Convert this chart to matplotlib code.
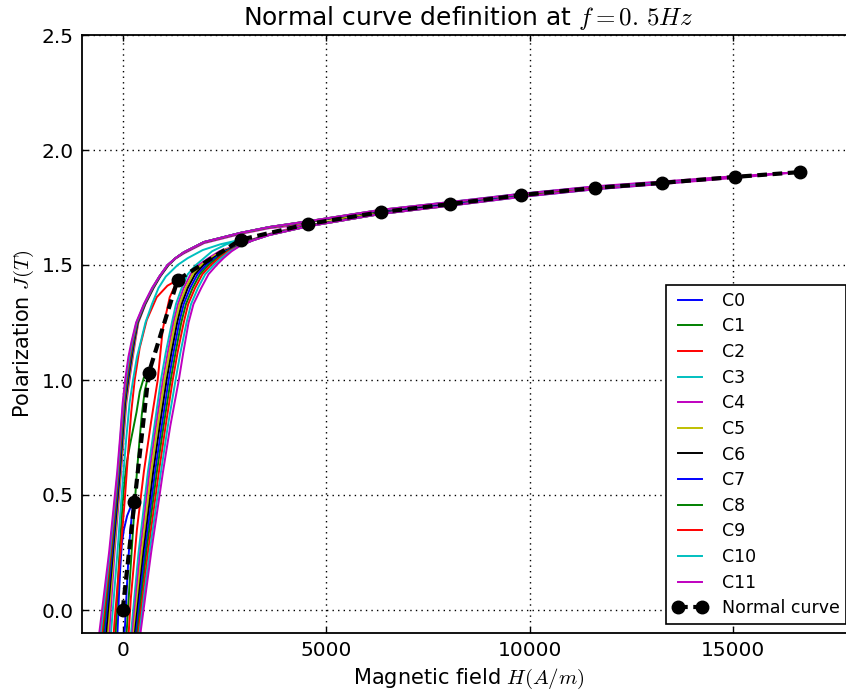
import matplotlib
matplotlib.use("Agg")
import matplotlib.pyplot as plt

plt.rcParams['mathtext.fontset'] = 'cm'
plt.rcParams['font.family'] = ['DejaVu Sans']
plt.rcParams['lines.scale_dashes'] = False

# Normal curve points (tips of the loops)
normal_h = [0, 290, 640, 1350, 2900, 4550, 6350, 8050, 9800, 11600, 13250, 15050, 16650]
normal_j = [0.0, 0.47, 1.03, 1.435, 1.61, 1.678, 1.73, 1.765, 1.804, 1.835, 1.857, 1.883, 1.904]

labels = ["C%d" % i for i in range(12)]
colors = ['b', 'g', 'r', 'c', 'm', 'y', 'k', 'b', 'g', 'r', 'c', 'm']

# descending branch of each loop (tip -> down to the left)
desc_h = [
    [290, 200, 110, 30, -20, -60, -90, -120, -140],
    [640, 520, 420, 340, 250, 170, 100, 45, 0, -50, -100, -150, -185],
    [1350, 1100, 836, 590, 418, 295, 210, 140, 60, -30, -120, -200, -240],
    [2900, 2400, 1968, 1600, 1350, 1060, 880, 720, 560, 450, 350, 255, 170, 90, 20, -130, -310],
    [4550, 3600, 2900, 2000, 1500, 1300, 1130, 925, 760, 560, 385, 310, 250, 165, 90, 25, -40, -200, -350],
    [6350, 4550, 3600, 2900, 2000, 1500, 1300, 1125, 920, 755, 555, 378, 298, 235, 150, 75, 10, -55, -220, -390],
    [8050, 6350, 4550, 3600, 2900, 2000, 1500, 1300, 1120, 915, 750, 550, 370, 285, 220, 135, 60, -5, -70, -240, -430],
    [9800, 8050, 6350, 4550, 3600, 2900, 2000, 1500, 1300, 1115, 910, 745, 545, 362, 272, 205, 120, 45, -20, -85, -260, -470],
    [11600, 9800, 8050, 6350, 4550, 3600, 2900, 2000, 1500, 1300, 1110, 905, 740, 540, 355, 260, 190, 105, 35, -33, -100, -280, -505],
    [13250, 11600, 9800, 8050, 6350, 4550, 3600, 2900, 2000, 1500, 1300, 1105, 900, 735, 533, 348, 247, 175, 90, 22, -45, -110, -297, -540],
    [15050, 13250, 11600, 9800, 8050, 6350, 4550, 3600, 2900, 2000, 1500, 1300, 1100, 900, 728, 527, 340, 234, 160, 75, 10, -55, -122, -316, -575],
    [16650, 15050, 13250, 11600, 9800, 8050, 6350, 4550, 3600, 2900, 2000, 1500, 1300, 1100, 900, 720, 520, 330, 220, 140, 60, 0, -65, -135, -335, -610],
]
desc_j = [
    [0.47, 0.45, 0.41, 0.35, 0.29, 0.18, 0.07, -0.06, -0.15],
    [1.03, 1.01, 0.95, 0.86, 0.78, 0.71, 0.64, 0.56, 0.47, 0.33, 0.18, 0.0, -0.15],
    [1.435, 1.41, 1.36, 1.26, 1.14, 1.0, 0.86, 0.7, 0.5, 0.3, 0.12, -0.05, -0.15],
    [1.61, 1.59, 1.565, 1.53, 1.5, 1.45, 1.4, 1.33, 1.25, 1.17, 1.1, 1.0, 0.9, 0.75, 0.6, 0.25, -0.15],
    [1.678, 1.66, 1.635, 1.595, 1.55, 1.528, 1.5, 1.45, 1.4, 1.33, 1.25, 1.17, 1.1, 1.0, 0.9, 0.75, 0.6, 0.25, -0.15],
    [1.73, 1.686, 1.663, 1.638, 1.598, 1.553, 1.529, 1.5, 1.45, 1.4, 1.33, 1.25, 1.17, 1.1, 1.0, 0.9, 0.75, 0.6, 0.25, -0.15],
    [1.765, 1.736, 1.688, 1.664, 1.639, 1.599, 1.554, 1.53, 1.5, 1.45, 1.4, 1.33, 1.25, 1.17, 1.1, 1.0, 0.9, 0.75, 0.6, 0.25, -0.15],
    [1.804, 1.77, 1.738, 1.689, 1.665, 1.64, 1.6, 1.555, 1.53, 1.5, 1.45, 1.4, 1.33, 1.25, 1.17, 1.1, 1.0, 0.9, 0.75, 0.6, 0.25, -0.15],
    [1.835, 1.808, 1.772, 1.739, 1.69, 1.665, 1.64, 1.6, 1.555, 1.53, 1.5, 1.45, 1.4, 1.33, 1.25, 1.17, 1.1, 1.0, 0.9, 0.75, 0.6, 0.25, -0.15],
    [1.857, 1.839, 1.809, 1.773, 1.74, 1.69, 1.665, 1.64, 1.6, 1.555, 1.53, 1.5, 1.45, 1.4, 1.33, 1.25, 1.17, 1.1, 1.0, 0.9, 0.75, 0.6, 0.25, -0.15],
    [1.883, 1.861, 1.841, 1.81, 1.774, 1.74, 1.69, 1.665, 1.64, 1.6, 1.555, 1.53, 1.5, 1.45, 1.4, 1.33, 1.25, 1.17, 1.1, 1.0, 0.9, 0.75, 0.6, 0.25, -0.15],
    [1.904, 1.886, 1.863, 1.842, 1.81, 1.774, 1.74, 1.69, 1.665, 1.64, 1.6, 1.555, 1.53, 1.5, 1.45, 1.4, 1.33, 1.25, 1.17, 1.1, 1.0, 0.9, 0.75, 0.6, 0.25, -0.15],
]

# ascending branch of each loop (bottom -> up to the tip)
asc_h = [
    [30, 60, 100, 140, 185, 235, 290],
    [80, 130, 200, 280, 350, 410, 470, 540, 640],
    [130, 200, 350, 520, 700, 861, 984, 1156, 1350],
    [180, 390, 620, 780, 940, 1060, 1210, 1310, 1450, 1600, 1800, 2000, 2200, 2550, 2900],
    [210, 430, 660, 820, 990, 1110, 1250, 1360, 1500, 1670, 1870, 2110, 2380, 2900, 3200, 3600, 4550],
    [240, 470, 700, 860, 1030, 1150, 1290, 1400, 1550, 1720, 1930, 2170, 2430, 2900, 3200, 3600, 4550, 6350],
    [270, 510, 750, 910, 1080, 1200, 1340, 1450, 1600, 1780, 1990, 2220, 2480, 2900, 3200, 3600, 4550, 6350, 8050],
    [298, 545, 795, 960, 1130, 1250, 1390, 1500, 1660, 1840, 2050, 2270, 2520, 2900, 3200, 3600, 4550, 6350, 8050, 9800],
    [325, 580, 840, 1005, 1180, 1300, 1440, 1555, 1720, 1900, 2110, 2320, 2560, 2900, 3200, 3600, 4550, 6350, 8050, 9800, 11600],
    [352, 620, 890, 1055, 1230, 1350, 1500, 1610, 1780, 1960, 2170, 2370, 2600, 2900, 3200, 3600, 4550, 6350, 8050, 9800, 11600, 13250],
    [378, 660, 940, 1110, 1300, 1420, 1570, 1680, 1850, 2030, 2240, 2420, 2640, 2900, 3200, 3600, 4550, 6350, 8050, 9800, 11600, 13250, 15050],
    [400, 700, 990, 1170, 1380, 1490, 1620, 1740, 1930, 2110, 2310, 2480, 2680, 2900, 3200, 3600, 4550, 6350, 8050, 9800, 11600, 13250, 15050, 16650],
]
asc_j = [
    [-0.15, -0.06, 0.09, 0.22, 0.34, 0.43, 0.47],
    [-0.15, 0.0, 0.2, 0.42, 0.6, 0.73, 0.85, 0.95, 1.03],
    [-0.15, 0.05, 0.35, 0.6, 0.82, 1.0, 1.22, 1.36, 1.435],
    [-0.15, 0.25, 0.6, 0.8, 1.0, 1.12, 1.25, 1.33, 1.4, 1.46, 1.5, 1.53, 1.56, 1.59, 1.61],
    [-0.15, 0.25, 0.6, 0.8, 1.0, 1.12, 1.25, 1.33, 1.4, 1.46, 1.5, 1.53, 1.56, 1.592, 1.612, 1.635, 1.678],
    [-0.15, 0.25, 0.6, 0.8, 1.0, 1.12, 1.25, 1.33, 1.4, 1.46, 1.5, 1.53, 1.56, 1.589, 1.61, 1.633, 1.672, 1.73],
    [-0.15, 0.25, 0.6, 0.8, 1.0, 1.12, 1.25, 1.33, 1.4, 1.46, 1.5, 1.53, 1.56, 1.588, 1.609, 1.632, 1.67, 1.725, 1.765],
    [-0.15, 0.25, 0.6, 0.8, 1.0, 1.12, 1.25, 1.33, 1.4, 1.46, 1.5, 1.53, 1.56, 1.587, 1.608, 1.631, 1.669, 1.723, 1.76, 1.804],
    [-0.15, 0.25, 0.6, 0.8, 1.0, 1.12, 1.25, 1.33, 1.4, 1.46, 1.5, 1.53, 1.56, 1.586, 1.608, 1.631, 1.668, 1.722, 1.759, 1.798, 1.835],
    [-0.15, 0.25, 0.6, 0.8, 1.0, 1.12, 1.25, 1.33, 1.4, 1.46, 1.5, 1.53, 1.56, 1.586, 1.607, 1.63, 1.668, 1.722, 1.758, 1.797, 1.83, 1.857],
    [-0.15, 0.25, 0.6, 0.8, 1.0, 1.12, 1.25, 1.33, 1.4, 1.46, 1.5, 1.53, 1.56, 1.585, 1.607, 1.63, 1.668, 1.722, 1.758, 1.796, 1.829, 1.853, 1.883],
    [-0.15, 0.25, 0.6, 0.8, 1.0, 1.12, 1.25, 1.33, 1.4, 1.46, 1.5, 1.53, 1.56, 1.585, 1.607, 1.63, 1.668, 1.722, 1.758, 1.796, 1.829, 1.852, 1.879, 1.904],
]

fig = plt.figure(figsize=(8.46, 6.98), dpi=100)
# axes run slightly past the right edge, like the cropped original
ax = fig.add_axes([82 / 846, 1 - 633 / 698, (855 - 82) / 846, (633 - 35) / 698])

for i in range(12):
    ax.plot(desc_h[i] + asc_h[i], desc_j[i] + asc_j[i], color=colors[i], lw=1.4, label=labels[i])

ax.plot(normal_h, normal_j, color='k', ls='--', dashes=(7, 4), lw=3, marker='o', ms=9,
        label="Normal curve")

ax.set_xlim(-1000, 18000)
ax.set_ylim(-0.1, 2.5)
ax.set_xticks([0, 5000, 10000, 15000])
ax.set_yticks([0.0, 0.5, 1.0, 1.5, 2.0, 2.5])
ax.grid(True, color='k', linestyle=(0, (1, 3)), linewidth=1.0)

ax.tick_params(direction='in', length=4.5, width=1, top=True, right=True, labelsize=14.5, pad=6)
for s in ax.spines.values():
    s.set_linewidth(1.3)

ax.set_title("Normal curve definition at $f=0.\\,5Hz$", fontsize=18, pad=7)
ax.set_xlabel("Magnetic field $H(A/m)$", fontsize=15, labelpad=5)
ax.set_ylabel("Polarization $J(T)$", fontsize=15)

leg = ax.legend(loc='lower right', fontsize=12.5, borderpad=0.4, labelspacing=0.44, handlelength=2,
                handletextpad=0.8, borderaxespad=0.5, numpoints=2, fancybox=False, framealpha=1)
leg.get_frame().set_edgecolor('k')
leg.get_frame().set_linewidth(1.2)

fig.savefig("out.png", dpi=100)
